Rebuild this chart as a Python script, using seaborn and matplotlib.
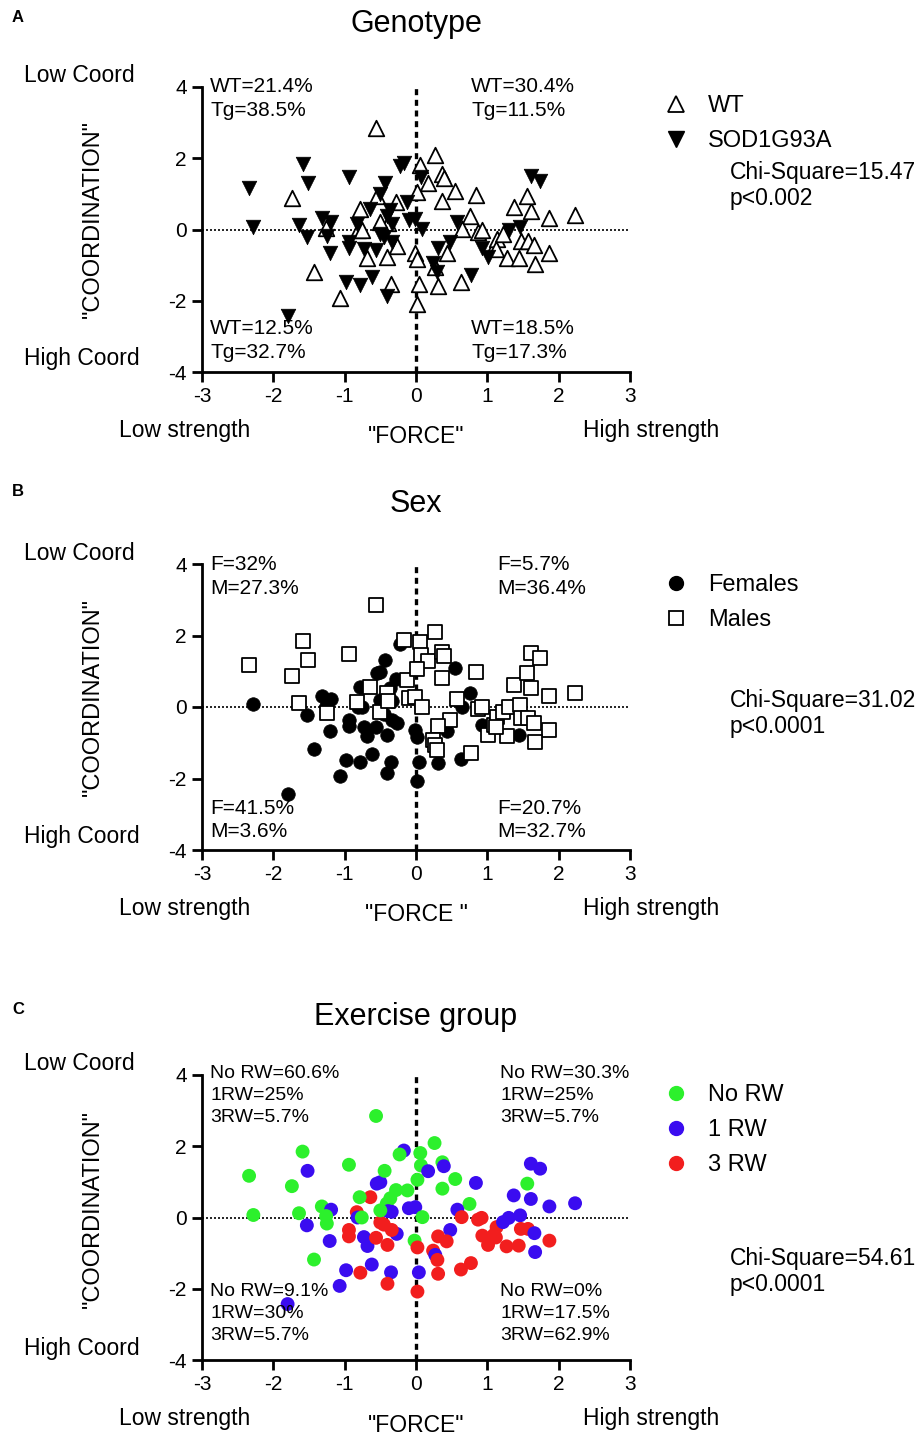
import numpy as np
import pandas as pd
import matplotlib
matplotlib.use("Agg")
import matplotlib.pyplot as plt
import seaborn as sns
from matplotlib.lines import Line2D

# ---------------- data ----------------
force = [-0.56, -1.59, -2.34, -1.52, -1.74, -0.94, -2.28, -1.64, -1.53, -1.32,
         -1.19, -1.26, -1.25, -1.21, -1.43, -0.98, -1.07, -1.80, -0.78, -0.62,
         -0.35, -0.40, -0.94, -0.94, -0.73, -0.68, -0.56, -0.40, -0.27, -0.34,
         -0.50, -0.45, -0.83, -0.82, -0.76, -0.64, -0.79, -0.55, -0.50, -0.44,
         -0.28, -0.36, -0.41, -0.39, -0.34, -0.50, -0.12, -0.10, -0.01, -0.17,
         -0.23, -0.02, 0.02, 0.04, 0.02, 0.06, 0.07, 0.17, 0.02, 0.09,
         0.26, 0.37, 0.39, 0.55, 0.37, 0.84, 0.75, 0.58, 0.64, 0.87,
         0.92, 0.48, 0.31, 0.43, 0.24, 0.27, 0.30, 0.31, 0.63, 0.77,
         0.93, 1.01, 1.09, 1.13, 1.22, 1.30, 1.27, 1.44, 1.46, 1.47,
         1.57, 1.66, 1.87, 1.67, 1.37, 1.61, 1.56, 1.61, 1.74, 1.87,
         2.23, 1.12]
coord = [2.85, 1.85, 1.17, 1.31, 0.88, 1.48, 0.07, 0.12, -0.22, 0.31,
         0.22, 0.04, -0.17, -0.66, -1.18, -1.48, -1.92, -2.43, -1.55, -1.32,
         -1.54, -1.86, -0.35, -0.53, -0.55, -0.80, -0.57, -0.77, -0.46, -0.35,
         -0.14, -0.20, 0.15, 0.00, 0.00, 0.57, 0.57, 0.95, 0.99, 1.31,
         0.77, 0.54, 0.39, 0.18, 0.16, 0.20, 0.76, 0.26, 0.29, 1.88,
         1.77, -0.65, -0.84, -1.54, -2.08, 1.81, 1.46, 1.30, 1.06, 0.01,
         2.09, 1.55, 1.44, 1.08, 0.81, 0.97, 0.38, 0.22, 0.01, -0.06,
         -0.01, -0.35, -0.53, -0.67, -0.93, -1.05, -1.19, -1.58, -1.46, -1.28,
         -0.51, -0.77, -0.49, -0.27, -0.13, -0.01, -0.81, -0.79, 0.06, -0.32,
         -0.32, -0.44, -0.65, -0.97, 0.62, 0.52, 0.95, 1.51, 1.37, 0.31,
         0.40, -0.56]
genotype_codes = ("W T T T W T T T T T "
                  "T W T T W T W T T T "
                  "W T T T T W T W W T "
                  "T T T W W T W W T T "
                  "W T T W T W T T T T "
                  "T W W W W W T W W T "
                  "W W W W W W W T W W "
                  "W T T W T W T W W T "
                  "T T W W W T W W T W "
                  "W W W W W W W T T W "
                  "W W").split()
sex_codes = ("M M M M M M F M F F "
             "F F M F F F F F F F "
             "F F F F F F F F F F "
             "M F M F F M F F F F "
             "F F M M F F M M M M "
             "F F F F F M M M M M "
             "M M M F M M F M F M "
             "M M M F M M M F F M "
             "F M M M M M M F M M "
             "M M M M M M M M M M "
             "M M").split()
exercise_codes = ("N N N 1 N N N N 1 N "
                  "1 N N 1 N 1 1 1 3 1 "
                  "1 3 3 3 1 1 3 3 1 3 "
                  "3 3 3 1 N 3 N 1 1 N "
                  "N N N 1 1 N N 1 1 1 "
                  "N N 3 1 3 N N 1 N N "
                  "N N 1 N N 1 N 1 3 3 "
                  "3 1 3 3 3 1 3 3 3 3 "
                  "3 3 3 3 1 1 3 3 1 3 "
                  "3 1 3 1 1 1 N 1 1 1 "
                  "1 3").split()

genotype_names = {"W": "WT", "T": "SOD1G93A"}
sex_names = {"F": "Females", "M": "Males"}
exercise_names = {"N": "No RW", "1": "1 RW", "3": "3 RW"}

x_ticks = [-3, -2, -1, 0, 1, 2, 3]
y_ticks = [-4, -2, 0, 2, 4]

df = pd.DataFrame({
    "force": force,
    "coord": coord,
    "genotype": [genotype_names[c] for c in genotype_codes],
    "sex": [sex_names[c] for c in sex_codes],
    "exercise": [exercise_names[c] for c in exercise_codes],
})

# ---------------- style ----------------
sns.set_style("ticks")
plt.rcParams['font.family'] = ['Liberation Sans', 'DejaVu Sans']
plt.rcParams['axes.unicode_minus'] = False
plt.rcParams['text.color'] = 'black'
plt.rcParams['axes.labelcolor'] = 'black'
plt.rcParams['xtick.color'] = 'black'
plt.rcParams['ytick.color'] = 'black'

W, H = 922, 1434
fig = plt.figure(figsize=(W / 100, H / 100), dpi=100)


def fx(px):
    return px / W


def fy(py):
    return 1 - py / H


def make_ax(top, bottom):
    ax = fig.add_axes([fx(202), fy(bottom), (630 - 202) / W, (bottom - top) / H])
    ax.set_xlim(-3, 3)
    ax.set_ylim(-4, 4)
    ax.set_xticks(x_ticks)
    ax.set_yticks(y_ticks)
    for s in ['top', 'right']:
        ax.spines[s].set_visible(False)
    for s in ['left', 'bottom']:
        ax.spines[s].set_linewidth(2)
        ax.spines[s].set_color('black')
    ax.tick_params(width=2, length=7, labelsize=15, direction='out', pad=4,
                   color='black', labelcolor='black')
    ax.axhline(0, color='black', lw=1.2, ls=(0, (1.2, 1.2)), zorder=0)
    ax.axvline(0, color='black', lw=2.4, ls=(0, (1.8, 1.4)), zorder=0)
    return ax


def finish(ax):
    ax.set_xlabel('')
    ax.set_ylabel('')


def common_text(y_title, title, y_low, y_high, y_xlab, force_label, letter, y_letter):
    fig.text(fx(12), fy(y_letter), letter, fontsize=12, weight='bold', va='center')
    fig.text(fx(416), fy(y_title), title, fontsize=22, ha='center', va='center')
    fig.text(fx(24), fy(y_low), 'Low Coord', fontsize=16.5, va='center')
    fig.text(fx(24), fy(y_high), 'High Coord', fontsize=16.5, va='center')
    fig.text(fx(185), fy(y_xlab), 'Low strength', fontsize=16.5, ha='center', va='center')
    fig.text(fx(651), fy(y_xlab), 'High strength', fontsize=16.5, ha='center', va='center')
    fig.text(fx(416), fy(y_xlab + 6), force_label, fontsize=16.5, ha='center', va='center')


def add_legend(ax, handles, labels, y_first):
    ax.legend(handles, labels, loc='upper left',
              bbox_to_anchor=(fx(664), fy(y_first - 9)), bbox_transform=fig.transFigure,
              frameon=False, fontsize=17, handlelength=1.0, handletextpad=0.85,
              labelspacing=0.56, borderpad=0, borderaxespad=0)


# ---------------- Panel A ----------------
axA = make_ax(87, 372)
sns.scatterplot(data=df[df.genotype == "WT"], x="force", y="coord", marker='^',
                color='white', edgecolor='black', linewidth=1.3, s=125, ax=axA, zorder=3)
sns.scatterplot(data=df[df.genotype == "SOD1G93A"], x="force", y="coord", marker='v',
                color='black', edgecolor='black', linewidth=0.5, s=110, ax=axA, zorder=3)
finish(axA)
common_text(24, 'Genotype', 75, 359, 431, '"FORCE"', 'A', 18)
fig.text(fx(93), fy(219), '"COORDINATION"', fontsize=17, rotation=90, ha='center', va='center')
hA = [Line2D([], [], ls='', marker='^', ms=11, mfc='white', mec='black', mew=1.3),
      Line2D([], [], ls='', marker='v', ms=11, mfc='black', mec='black')]
add_legend(axA, hA, ['WT', 'SOD1G93A'], 104)
fig.text(fx(730), fy(172), 'Chi-Square=15.47', fontsize=16.5, va='center')
fig.text(fx(730), fy(199), 'p<0.002', fontsize=16.5, va='center')
for (px, py, t) in [(210, 87, 'WT=21.4%'), (210, 111, 'Tg=38.5%'),
                    (471, 87, 'WT=30.4%'), (471, 111, 'Tg=11.5%'),
                    (210, 328, 'WT=12.5%'), (210, 352, 'Tg=32.7%'),
                    (471, 328, 'WT=18.5%'), (471, 352, 'Tg=17.3%')]:
    fig.text(fx(px), fy(py), t, fontsize=15, va='center')

# ---------------- Panel B ----------------
axB = make_ax(564, 850)
sns.scatterplot(data=df[df.sex == "Females"], x="force", y="coord", marker='o',
                color='black', edgecolor='black', linewidth=0.5, s=95, ax=axB, zorder=3)
sns.scatterplot(data=df[df.sex == "Males"], x="force", y="coord", marker='s',
                color='white', edgecolor='black', linewidth=1.3, s=100, ax=axB, zorder=3)
finish(axB)
common_text(504, 'Sex', 553, 837, 908, '"FORCE "', 'B', 492)
fig.text(fx(93), fy(697), '"COORDINATION"', fontsize=17, rotation=90, ha='center', va='center')
hB = [Line2D([], [], ls='', marker='o', ms=10, mfc='black', mec='black'),
      Line2D([], [], ls='', marker='s', ms=10, mfc='white', mec='black', mew=1.3)]
add_legend(axB, hB, ['Females', 'Males'], 583)
fig.text(fx(730), fy(700), 'Chi-Square=31.02', fontsize=16.5, va='center')
fig.text(fx(730), fy(727), 'p<0.0001', fontsize=16.5, va='center')
for (px, py, t) in [(210, 565, 'F=32%'), (210, 589, 'M=27.3%'),
                    (497, 565, 'F=5.7%'), (497, 589, 'M=36.4%'),
                    (210, 808, 'F=41.5%'), (210, 832, 'M=3.6%'),
                    (497, 808, 'F=20.7%'), (497, 832, 'M=32.7%')]:
    fig.text(fx(px), fy(py), t, fontsize=15, va='center')

# ---------------- Panel C ----------------
palette = {"No RW": "#2CF02C", "1 RW": "#3A0CF0", "3 RW": "#F21E1E"}
axC = make_ax(1075, 1360)
sns.scatterplot(data=df, x="force", y="coord", hue="exercise", palette=palette,
                marker='o', s=100, linewidth=0, ax=axC, legend=False, zorder=3)
finish(axC)
common_text(1017, 'Exercise group', 1064, 1348, 1419, '"FORCE"', 'C', 1010)
fig.text(fx(93), fy(1209), '"COORDINATION"', fontsize=17, rotation=90, ha='center', va='center')
hC = [Line2D([], [], ls='', marker='o', ms=10, mfc=palette[k], mec=palette[k])
      for k in ["No RW", "1 RW", "3 RW"]]
add_legend(axC, hC, ["No RW", "1 RW", "3 RW"], 1093)
fig.text(fx(730), fy(1258), 'Chi-Square=54.61', fontsize=16.5, va='center')
fig.text(fx(730), fy(1285), 'p<0.0001', fontsize=16.5, va='center')
for (px, py, t) in [(210, 1073, 'No RW=60.6%'), (210, 1095, '1RW=25%'), (210, 1117, '3RW=5.7%'),
                    (500, 1073, 'No RW=30.3%'), (500, 1095, '1RW=25%'), (500, 1117, '3RW=5.7%'),
                    (210, 1291, 'No RW=9.1%'), (210, 1313, '1RW=30%'), (210, 1335, '3RW=5.7%'),
                    (500, 1291, 'No RW=0%'), (500, 1313, '1RW=17.5%'), (500, 1335, '3RW=62.9%')]:
    fig.text(fx(px), fy(py), t, fontsize=14, va='center')

fig.savefig("out.png", dpi=100, facecolor='white')
